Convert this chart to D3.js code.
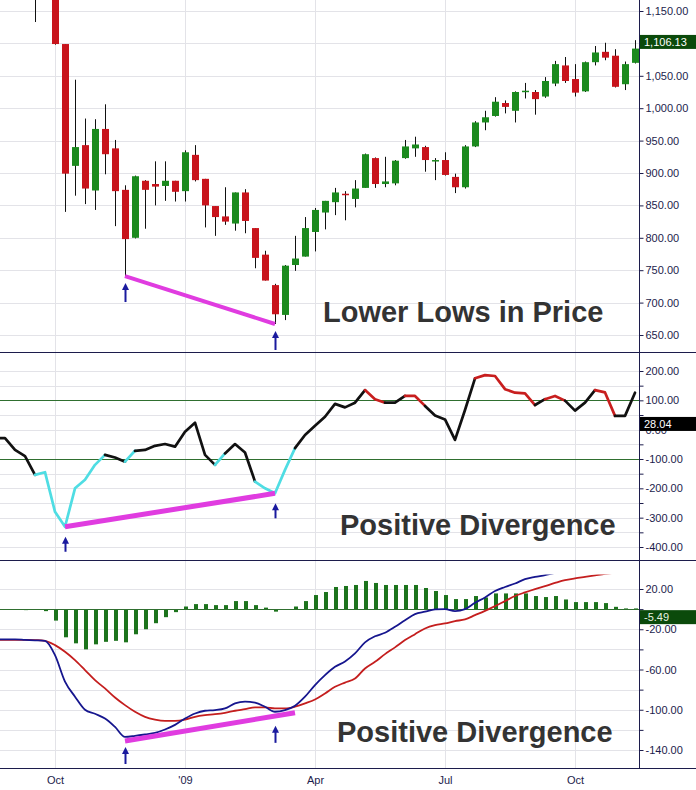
<!DOCTYPE html>
<html>
<head>
<meta charset="utf-8">
<script src="https://cdn.jsdelivr.net/npm/d3@7"></script>
<style>
body { margin: 0; background: #fff; }
svg { display: block; font-family: "Liberation Sans", Arial, sans-serif; }
.vaxis text, .xaxis text { fill: #1c1c4c; font-size: 11px; font-family: "Liberation Sans", Arial, sans-serif; }
.vaxis line { stroke: #1c1c4c; }
.big { font-weight: bold; font-size: 29px; fill: #333; }
</style>
</head>
<body>
<div id="chart"></div>
<script>
// weekly bars (monday of each week)
var weeks = ["2008-08-18","2008-08-25","2008-09-01","2008-09-08","2008-09-15","2008-09-22","2008-09-29",
  "2008-10-06","2008-10-13","2008-10-20","2008-10-27","2008-11-03","2008-11-10","2008-11-17","2008-11-24",
  "2008-12-01","2008-12-08","2008-12-15","2008-12-22","2008-12-29","2009-01-05","2009-01-12","2009-01-19",
  "2009-01-26","2009-02-02","2009-02-09","2009-02-16","2009-02-23","2009-03-02","2009-03-09","2009-03-16",
  "2009-03-23","2009-03-30","2009-04-06","2009-04-13","2009-04-20","2009-04-27","2009-05-04","2009-05-11",
  "2009-05-18","2009-05-25","2009-06-01","2009-06-08","2009-06-15","2009-06-22","2009-06-29","2009-07-06",
  "2009-07-13","2009-07-20","2009-07-27","2009-08-03","2009-08-10","2009-08-17","2009-08-24","2009-08-31",
  "2009-09-07","2009-09-14","2009-09-21","2009-09-28","2009-10-05","2009-10-12","2009-10-19","2009-10-26",
  "2009-11-02","2009-11-09"];

var open  = [1298,1292,1283,1242,1252,1255,1213, 1099,911,943,873,968,938,874,800, 888,883,880,888,872,928,891,849,
  833,822,870,815,774,727,681,758, 771,809,839,855,868,860,877,923, 883,884,923,938,940,918,920,894,
  878,941,978,988,1008,996,1026,1025, 1018,1038,1066,1045,1026,1071,1087,1081, 1037,1070];
var high  = [1300,1303,1303,1255,1265,1255,1234, 1099,1044,984,983,1006,951,881,896, 889,918,918,888,935,943,891,849,
  878,870,875,815,780,729,758,803, 832,846,857,877,872,889,930,924, 925,920,951,956,942,923,932,899,
  943,980,996,1017,1012,1026,1039,1028, 1048,1073,1079,1068,1072,1096,1101,1091, 1072,1105];
var low   = [1261,1263,1236,1212,1133,1179,1098, 840,865,852,843,898,818,741,799, 814,850,857,856,856,887,816,803,
  820,811,807,753,734,667,673,749, 771,779,813,835,827,847,877,877, 878,881,922,925,902,889,896,869,
  876,940,966,987,992,978,1015,990, 1016,1034,1039,1018,1025,1066,1074,1032, 1028,1069];
var close = [1292,1283,1242,1252,1255,1213,1099, 899,940,876,968,929,872,798,895, 874,879,888,871,932,889,850,832,
  825,870,826,769,734,682,757,768, 815,843,857,870,866,876,929,883, 887,919,941,944,920,920,897,878,
  941,978,986,1010,1002,1025,1027,1014, 1042,1068,1042,1024,1071,1086,1078,1033, 1068,1092];

var cci = [-29,-29,-69,-90,-154,-145,-280, -331,-200,-171,-120,-86,-95,-109,-72, -69,-55,-49,-58,-7,24,-86,-120,
  -81,-49,-78,-177,-200,-217,-137,-63, -18,13,44,88,76,92,135,104, 92,92,115,115,81,48,35,-35,
  67,175,186,183,138,126,124,84, 104,115,99,65,92,135,127,47, 47,126];

var macd = [-30,-30,-30,-30.5,-31,-31.5,-45.7, -72,-87,-100,-104,-108.7,-117,-127,-126, -124.6,-123,-119.6,-115,-108.7,-103.7,-101,-100.4,
  -98.7,-93.7,-92,-93,-97,-102,-100.4,-96, -87,-75.5,-65.6,-57.3,-52,-44,-33,-27, -23.5,-17.6,-11,-5,-2.6,-0.3,0,-2,
  0,6.3,11.6,18,22,25.5,29.8,32, 33.8,36,37.5,38,39,40,40.5,39, 38.5,39];
var signal = [-30.5,-30.5,-30.5,-30.5,-30.8,-31.5,-35.8, -42.4,-50.7,-60.6,-70.6,-78.8,-87.8,-95.4,-102, -107,-109.7,-111,-111,-109.7,-107,-105.4,-104.4,
  -103,-101,-99.4,-97.7,-97.7,-98.7,-98.7,-97, -93.7,-89.8,-83.8,-77.2,-73,-69,-59,-52.4, -44.7,-38,-30.8,-24.9,-19.2,-15.9,-14.2,-11.9,
  -10.2,-6,-1.7,3,8,13,16.6,19.9, 22.9,26,28.8,30.5,32,33.5,35,36, 37,38];
var hist = [0,0,0,-1,0,-2,-11.4, -28,-34,-40,-35,-32.5,-31.5,-33,-25, -20,-14,-8,-3,2.6,5,5,4,
  4,8,8,4,1.5,-2.5,0,2.6, 8,14,17,22,23,24,28,26, 24,24,24,24,21,18,14,10,
  10,13,11.6,15.6,15.6,15.6,15.6,13, 12,13,9.6,7,7,7,6,2.3, 0.7,0.7];

var lastPrice = 1106.13, lastCci = 28.04, lastMacd = -5.49;

var priceGrid = [650,700,750,800,850,900,950,1000,1050,1100,1150];
var priceTicks = [650,700,750,800,850,900,950,1000,1050,1150]; // 1,100 sits under the last-price tag
var cciTicks = [-400,-300,-200,-100,0,100,200];
var cciMinor = [-350,-250,-150,-50,50,150];
var cciGrid = [-400,-350,-300,-250,-200,-150,-100,-50,0,50,100,150,200];
var cciBands = [-100,100];
var macdTicks = [-140,-100,-60,-20,20];
var macdMinor = [-120,-80,-40,0];
var macdGrid = [-140,-120,-100,-80,-60,-40,-20,0,20];
var xTickWeeks = ["2008-09-29","2008-12-29","2009-03-30","2009-06-29","2009-09-28"];
var xTickLabels = ["Oct","'09","Apr","Jul","Oct"];

// divergence annotations: [week, value]
var priceDiv = [["2008-11-17",741],["2009-03-02",667]];
var cciDiv = [["2008-10-06",-331],["2009-03-02",-217]];
var macdDiv = [["2008-11-17",-131],["2009-03-16",-103]];
var priceArrows = [["2008-11-17",741],["2009-03-02",667]];
var cciArrows = [["2008-10-06",-331],["2009-03-02",-217]];
var macdArrows = [["2008-11-17",-137],["2009-03-02",-116]];

var W = 696, H = 790, plotW = 639;
var fmt = d3.formatLocale({decimal: ".", thousands: ",", grouping: [3], currency: ["$", ""], minus: "-"});
var f2 = fmt.format(",.2f");

var parse = d3.timeParse("%Y-%m-%d");
var dates = weeks.map(parse);
var t0 = d3.timeHour.offset(dates[0], 84);
var x = d3.scaleTime().domain([t0, d3.timeHour.offset(t0, 63.9 * 168)]).range([0, plotW]);
var px = function(d) { return Math.round(x(d)); };

var yP = d3.scaleLinear().domain([650, 1150]).range([335, 11]);
var yC = d3.scaleLinear().domain([-400, 200]).range([547, 371]);
var yM = d3.scaleLinear().domain([-140, 20]).range([750, 589]);

var panels = [
  {y: yP, top: 0, bottom: 352, grid: priceGrid, id: "cp"},
  {y: yC, top: 352, bottom: 560, grid: cciGrid, id: "cc"},
  {y: yM, top: 560, bottom: 768, grid: macdGrid, id: "cm"}
];

var svg = d3.select("#chart").append("svg").attr("width", W).attr("height", H);
var defs = svg.append("defs");
panels.forEach(function(p) {
  defs.append("clipPath").attr("id", p.id).append("rect")
    .attr("x", 0).attr("y", p.top).attr("width", plotW).attr("height", p.bottom - p.top);
});
// MACD lines get clipped a little under the panel top
defs.append("clipPath").attr("id", "cml").append("rect")
  .attr("x", 0).attr("y", yM(34.5)).attr("width", plotW).attr("height", 768 - yM(34.5));

var xTicks = xTickWeeks.map(parse);

// grids
panels.forEach(function(p) {
  var g = svg.append("g").attr("class", "grid");
  g.selectAll(".h").data(p.grid).enter().append("line")
    .attr("x1", 0).attr("x2", plotW)
    .attr("y1", function(d) { return Math.round(p.y(d)) + 0.5; })
    .attr("y2", function(d) { return Math.round(p.y(d)) + 0.5; })
    .attr("stroke", "#e3e3e8");
  g.selectAll(".v").data(xTicks).enter().append("line")
    .attr("x1", function(d) { return px(d) + 0.5; }).attr("x2", function(d) { return px(d) + 0.5; })
    .attr("y1", p.top).attr("y2", p.bottom)
    .attr("stroke", "#e3e3e8");
});

// ---- price candles
var bars = d3.range(weeks.length);
var gp = svg.append("g").attr("clip-path", "url(#cp)");
gp.selectAll(".wick").data(bars).enter().append("line")
  .attr("x1", function(i) { return px(dates[i]) + 0.5; })
  .attr("x2", function(i) { return px(dates[i]) + 0.5; })
  .attr("y1", function(i) { return yP(high[i]); })
  .attr("y2", function(i) { return yP(low[i]); })
  .attr("stroke", "#111").attr("stroke-width", 1);
gp.selectAll(".body").data(bars).enter().append("rect")
  .attr("x", function(i) { return px(dates[i]) - 3; })
  .attr("width", 7)
  .attr("y", function(i) { return yP(Math.max(open[i], close[i])); })
  .attr("height", function(i) { return Math.max(1.5, Math.abs(yP(open[i]) - yP(close[i]))); })
  .attr("fill", function(i) { return close[i] < open[i] ? "#c8141c" : "#1b8a1e"; });

// ---- CCI
var gc = svg.append("g").attr("clip-path", "url(#cc)");
gc.selectAll(".band").data(cciBands).enter().append("line")
  .attr("x1", 0).attr("x2", plotW)
  .attr("y1", function(d) { return Math.round(yC(d)) + 0.5; })
  .attr("y2", function(d) { return Math.round(yC(d)) + 0.5; })
  .attr("stroke", "#2f6f2f");
var segColor = function(v) { return v > 100 ? "#c81e1e" : (v < -100 ? "#4fdde3" : "#111"); };
var runs = [], cur = null;
for (var i = 0; i < cci.length - 1; i++) {
  var c = segColor(cci[i]);
  if (!cur || cur.color !== c) { cur = {color: c, idx: [i]}; runs.push(cur); }
  cur.idx.push(i + 1);
}
var cciLine = d3.line().x(function(i) { return x(dates[i]); }).y(function(i) { return yC(cci[i]); });
gc.selectAll(".cci").data(runs).enter().append("path")
  .attr("d", function(r) { return cciLine(r.idx); })
  .attr("fill", "none").attr("stroke", function(r) { return r.color; })
  .attr("stroke-width", 2.7).attr("stroke-linejoin", "round").attr("stroke-linecap", "round");

// ---- MACD
var gm = svg.append("g").attr("clip-path", "url(#cm)");
gm.selectAll(".hist").data(bars).enter().append("rect")
  .attr("x", function(i) { return px(dates[i]) - 1; })
  .attr("width", 4)
  .attr("y", function(i) { return Math.min(yM(0), yM(hist[i])); })
  .attr("height", function(i) { return Math.abs(yM(hist[i]) - yM(0)); })
  .attr("fill", "#1c731c");
gm.append("line").attr("x1", 0).attr("x2", plotW)
  .attr("y1", Math.round(yM(0)) + 0.5).attr("y2", Math.round(yM(0)) + 0.5)
  .attr("stroke", "#2f6f2f");
var gml = svg.append("g").attr("clip-path", "url(#cml)");
var mLine = function(arr) {
  return d3.line().curve(d3.curveMonotoneX).x(function(i) { return x(dates[i]); }).y(function(i) { return yM(arr[i]); });
};
gml.append("path").attr("d", mLine(signal)(bars))
  .attr("fill", "none").attr("stroke", "#c41e1e").attr("stroke-width", 1.8);
gml.append("path").attr("d", mLine(macd)(bars))
  .attr("fill", "none").attr("stroke", "#16168e").attr("stroke-width", 1.8);

// ---- divergence lines and arrows
var divLine = function(y) { return d3.line().x(function(d) { return x(parse(d[0])); }).y(function(d) { return y(d[1]); }); };
[[priceDiv, yP, 4], [cciDiv, yC, 5], [macdDiv, yM, 5]].forEach(function(a) {
  svg.append("path").attr("d", divLine(a[1])(a[0]))
    .attr("fill", "none").attr("stroke", "#e03ce0").attr("stroke-width", a[2]);
});
var drawArrow = function(list, y, gap, len) {
  list.forEach(function(d) {
    var ax = x(parse(d[0])) + 0.5, tip = y(d[1]) + gap;
    svg.append("line").attr("x1", ax).attr("x2", ax).attr("y1", tip + 5).attr("y2", tip + len)
      .attr("stroke", "#1a1a9e").attr("stroke-width", 2);
    svg.append("path")
      .attr("d", "M" + ax + "," + tip + "L" + (ax - 3.5) + "," + (tip + 7) + "L" + (ax + 3.5) + "," + (tip + 7) + "Z")
      .attr("fill", "#1a1a9e");
  });
};
drawArrow(priceArrows, yP, 7, 19);
drawArrow(cciArrows, yC, 10, 15);
drawArrow(macdArrows, yM, 0, 17);

// ---- captions
svg.append("text").attr("class", "big").attr("x", 323).attr("y", 322).text("Lower Lows in Price");
svg.append("text").attr("class", "big").attr("x", 340).attr("y", 535).text("Positive Divergence");
svg.append("text").attr("class", "big").attr("x", 337).attr("y", 742).text("Positive Divergence");

// ---- right axes
var vAxis = function(y, vals, minor) {
  var g = svg.append("g").attr("class", "vaxis").attr("transform", "translate(" + (plotW + 0.5) + ",0)");
  g.call(d3.axisRight(y).tickValues(vals).tickSize(4).tickPadding(2).tickFormat(f2))
    .call(function(s) { s.select(".domain").remove(); s.attr("font-size", null).attr("font-family", null); });
  if (minor) {
    var m = svg.append("g").attr("class", "vaxis").attr("transform", "translate(" + (plotW + 0.5) + ",0)");
    m.call(d3.axisRight(y).tickValues(minor).tickSize(4).tickFormat(""))
      .call(function(s) { s.select(".domain").remove(); });
  }
};
vAxis(yP, priceTicks);
vAxis(yC, cciTicks, cciMinor);
vAxis(yM, macdTicks, macdMinor);

// panel borders and axis line
svg.selectAll(".sep").data([352, 560, 768]).enter().append("line")
  .attr("x1", 0).attr("x2", W).attr("y1", function(d) { return d + 0.5; }).attr("y2", function(d) { return d + 0.5; })
  .attr("stroke", "#1c1c4c");
svg.append("line").attr("x1", plotW + 0.5).attr("x2", plotW + 0.5).attr("y1", 0).attr("y2", 768)
  .attr("stroke", "#1c1c4c");

// last value labels
var tag = function(y, v, fill, color) {
  var cy = y(v) + 2.5;
  svg.append("rect").attr("x", plotW + 1).attr("y", cy - 7).attr("width", W - plotW - 1).attr("height", 14).attr("fill", fill);
  svg.append("text").attr("x", plotW + 5).attr("y", cy).attr("dy", "0.35em")
    .attr("font-size", 11).attr("fill", color).text(f2(v));
};
tag(yP, lastPrice, "#0b4a0b", "#fff");
tag(yC, lastCci, "#000", "#fff");
tag(yM, lastMacd, "#0b4a0b", "#e8f2e0");

// bottom date axis
svg.append("g").attr("class", "xaxis").attr("transform", "translate(0,768)")
  .call(d3.axisBottom(x).tickValues(xTicks).tickSize(0).tickPadding(8)
    .tickFormat(function(d, i) { return xTickLabels[i]; }))
  .call(function(s) { s.select(".domain").remove(); s.attr("font-size", null).attr("font-family", null); });
</script>
</body>
</html>
